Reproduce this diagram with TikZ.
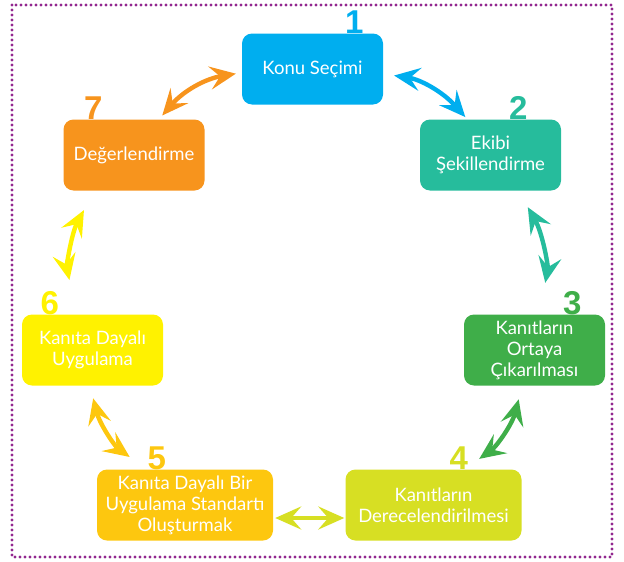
\documentclass[tikz,border=0pt]{standalone}
\usepackage{fontspec}
\setmainfont{Lato}
\newfontfamily\numfont{Liberation Sans}
\usetikzlibrary{positioning}
\usetikzlibrary{arrows.meta}

\definecolor{konu}{HTML}{00AEEF}
\definecolor{ekip}{HTML}{26BC9C}
\definecolor{ortaya}{HTML}{3FAE49}
\definecolor{derece}{HTML}{D7DF23}
\definecolor{standart}{HTML}{FDC70F}
\definecolor{uygula}{HTML}{FFF200}
\definecolor{deger}{HTML}{F7941D}
\definecolor{cerceve}{HTML}{92278F}

\begin{document}
\begin{tikzpicture}[x=1pt,y=-1pt,auto]
  \tikzstyle{phase}=[rounded corners=10pt,minimum width=141pt,minimum height=71pt,
                     text=white,align=center,inner sep=2pt,
                     font=\fontsize{18.5}{21}\selectfont]
  \tikzstyle{wide}=[minimum width=176pt]
  \tikzstyle{num}=[anchor=base,inner sep=0pt,font=\numfont\bfseries\fontsize{33}{33}\selectfont]
  \tikzstyle{link}=[{Stealth[length=26pt,width=23pt,inset=10pt]}-{Stealth[length=26pt,width=23pt,inset=10pt]},
                    line width=4.4pt,bend left=20]

  \useasboundingbox (0,0) rectangle (624,562);
  \draw[cerceve,line width=3.4pt,line cap=round,dash pattern=on 0pt off 5pt]
    (12,5) rectangle (612,557);

  \node[phase,fill=konu]            (K) at (312.5,69)  {Konu Seçimi};
  \node[phase,fill=ekip]            (E) at (490.5,155) {Ekibi\\Şekillendirme};
  \node[phase,fill=ortaya]          (C) at (534.5,350) {Kanıtların\\Ortaya\\Çıkarılması};
  \node[phase,wide,fill=derece]     (D) at (433.5,505) {Kanıtların\\Derecelendirilmesi};
  \node[phase,wide,fill=standart]   (S) at (185,505)   {Kanıta Dayalı Bir\\Uygulama Standartı\\Oluşturmak};
  \node[phase,fill=uygula]          (U) at (92.5,350)  {Kanıta Dayalı\\Uygulama};
  \node[phase,fill=deger]           (G) at (134,155)   {Değerlendirme};

  % step numbers
  \node[num,text=konu]     (n1) at ([xshift=-29pt]K.north east) {1};
  \node[num,text=ekip]     (n2) at ([xshift=-43pt]E.north east) {2};
  \node[num,text=ortaya]   (n3) at ([xshift=-33pt]C.north east) {3};
  \node[num,text=derece]   (n4) at ([xshift=-63pt]D.north east) {4};
  \node[num,text=standart] (n5) at ([xshift=60pt]S.north west)  {5};
  \node[num,text=uygula]   (n6) at ([xshift=28pt]U.north west)  {6};
  \node[num,text=deger]    (n7) at ([xshift=30pt]G.north west)  {7};

  \draw[link,deger,shorten <=5pt,shorten >=6pt]     (G.55)   to (K.183);
  \draw[link,konu,shorten <=11pt,shorten >=3pt]     (K.-4)   to (E.123);
  \draw[link,ekip,shorten <=19pt,shorten >=32pt]    (E.-52)  to (C.82);
  \draw[link,ortaya,shorten <=14pt,shorten >=18pt]  (C.-109) to (D.49);
  \draw[link,derece,shorten <=1pt,shorten >=2pt]    ([yshift=-13pt]D.west) -- ([yshift=-13pt]S.east);
  \draw[link,standart,shorten <=21pt,shorten >=13pt] (S.137) to (U.-94);
  \draw[link,uygula,shorten <=35pt,shorten >=22pt]  (U.114)  to (G.222);

\end{tikzpicture}
\end{document}
